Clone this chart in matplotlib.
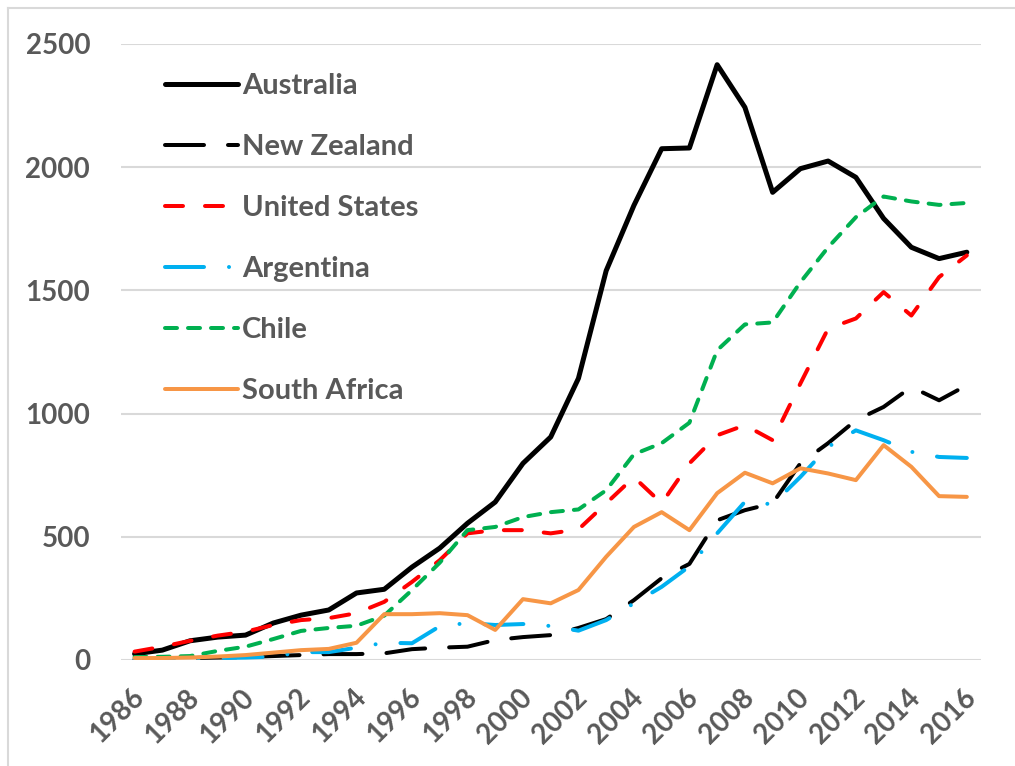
import matplotlib
matplotlib.use("Agg")
import matplotlib.pyplot as plt
import matplotlib.transforms as mtransforms
from matplotlib.lines import Line2D
import numpy as np

# data
years = list(range(1986, 2017))

australia = [25, 40, 78, 93, 101, 150, 182, 203, 272, 287, 377, 454, 555, 641, 798,
             905, 1143, 1580, 1845, 2075, 2078, 2416, 2243, 1898, 1994, 2025, 1959,
             1792, 1675, 1629, 1655]
new_zealand = [3, 5, 8, 10, 12, 16, 20, 24, 24, 27, 44, 50, 54, 81, 93,
               101, 130, 166, 243, 332, 390, 567, 608, 636, 798, 880, 973,
               1027, 1108, 1054, 1115]
united_states = [34, 54, 78, 99, 115, 142, 162, 170, 190, 236, 317, 405, 514, 527, 527,
                 514, 530, 636, 742, 636, 798, 912, 953, 892, 1122, 1345, 1386,
                 1493, 1398, 1554, 1642]
argentina = [2, 3, 5, 8, 10, 14, 32, 32, 50, 70, 68, 137, 150, 142, 146,
             138, 119, 162, 230, 297, 380, 514, 642, 632, 743, 865, 932,
             892, 845, 824, 820]
chile = [12, 13, 16, 37, 54, 85, 118, 130, 139, 180, 284, 395, 527, 540, 580,
         600, 611, 689, 835, 880, 963, 1257, 1362, 1370, 1533, 1675, 1797,
         1881, 1861, 1847, 1855]
south_africa = [8, 8, 10, 14, 20, 30, 40, 45, 70, 186, 186, 190, 182, 122, 247,
                230, 284, 419, 540, 600, 527, 677, 760, 717, 778, 757, 730,
                872, 784, 665, 662]

names = ["Australia", "New Zealand", "United States", "Argentina", "Chile", "South Africa"]
series = [australia, new_zealand, united_states, argentina, chile, south_africa]
colors = ["black", "black", "#FF0000", "#00B0F0", "#00B050", "#F79646"]

px = 0.72  # one pixel in points at dpi 100
widths = [5 * px, 4 * px, 4 * px, 4 * px, 4 * px, 4 * px]
dashes = [None,
          (0, (39 * px, 24 * px)),
          (0, (18 * px, 22 * px)),
          (0, (39 * px, 25 * px, 0.01, 25 * px)),
          (0, (12 * px, 11 * px)),
          None]

plt.rcParams['lines.scale_dashes'] = False
plt.rcParams['font.family'] = ['Lato', 'DejaVu Sans']
txt = "#595959"

fig = plt.figure(figsize=(10.15, 7.66), dpi=100)
ax = fig.add_axes([120.7 / 1015, (766 - 660) / 766, 860 / 1015, 616 / 766])

for name, vals, c, lw, ds in zip(names, series, colors, widths, dashes):
    kw = dict(color=c, lw=lw, label=name, solid_joinstyle='round',
              dash_capstyle='round', solid_capstyle='round', dash_joinstyle='round')
    if ds is not None:
        kw['linestyle'] = ds
    ax.plot(years, vals, **kw)

ax.set_xlim(1985.5, 2016.5)
ax.set_ylim(0, 2500)
ax.set_yticks(np.arange(0, 2501, 500))
ax.set_xticks(years[::2])
ax.grid(axis='y', color='#d9d9d9', lw=1.5)
ax.set_axisbelow(True)
for s in ax.spines.values():
    s.set_visible(False)
ax.tick_params(axis='y', length=0, pad=22, labelsize=20, labelcolor=txt)
ax.tick_params(axis='x', length=0, pad=24, labelsize=20, labelcolor=txt)
for lab in ax.get_yticklabels():
    lab.set_fontweight('bold')
shift = mtransforms.ScaledTranslation(5 / 100, 0, fig.dpi_scale_trans)
for lab in ax.get_xticklabels():
    lab.set_fontweight('bold')
    lab.set_rotation(45)
    lab.set_ha('right')
    lab.set_va('center')
    lab.set_rotation_mode('anchor')
    lab.set_transform(lab.get_transform() + shift)

leg = ax.legend(loc='upper left', bbox_to_anchor=(0.038, 0.972), frameon=False,
                handlelength=2.5, handletextpad=0.15, labelspacing=1.2,
                prop={'size': 21, 'weight': 'bold'}, borderaxespad=0)
for t in leg.get_texts():
    t.set_color(txt)

# chart border like the spreadsheet frame
fig.add_artist(Line2D([8 / 1015, 1.0], [1 - 8 / 766, 1 - 8 / 766], color='#d9d9d9', lw=1.5,
                      transform=fig.transFigure))
fig.add_artist(Line2D([8 / 1015, 8 / 1015], [0, 1 - 8 / 766], color='#d9d9d9', lw=1.5,
                      transform=fig.transFigure))

fig.savefig("out.png", dpi=100)
